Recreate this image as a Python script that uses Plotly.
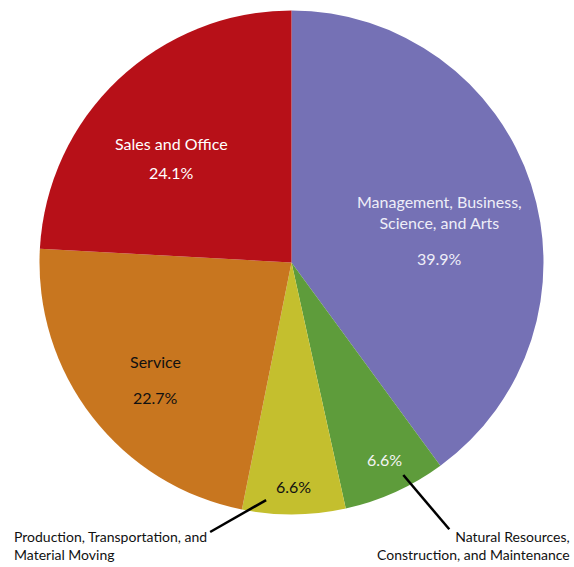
import numpy as np
import plotly.graph_objects as go

# Employment by occupation group (percent), clockwise from 12 o'clock
labels = [
    "Management, Business,<br>Science, and Arts",
    "Natural Resources,<br>Construction, and Maintenance",
    "Production, Transportation, and<br>Material Moving",
    "Service",
    "Sales and Office",
]
values = [39.9, 6.6, 6.6, 22.7, 24.1]
colors = ["#7571b5", "#5e9c3b", "#c4bf2e", "#c8761f", "#b71018"]
text_colors = ["#eeeef8", "#f4f4f4", "#111111", "#111111", "#ffffff"]

W, H = 574, 567
CX, CY, R = 291.5, 262.5, 252   # pie centre/radius in pixels
FONT = "Lato, Roboto, sans-serif"
FS_IN, FS_OUT = 16, 14


def to_paper(px, py):
    return px / W, 1 - py / H


def polar(angle, frac):
    # angle in degrees clockwise from 12 o'clock -> paper coords
    a = np.radians(angle)
    return to_paper(CX + R * frac * np.sin(a), CY - R * frac * np.cos(a))


x0, y1 = to_paper(CX - R, CY - R)
x1, y0 = to_paper(CX + R, CY + R)

fig = go.Figure(go.Pie(
    labels=labels,
    values=values,
    sort=False,
    direction="clockwise",
    rotation=0,
    marker=dict(colors=colors, line=dict(width=0)),
    textinfo="none",
    hoverinfo="label+percent",
    showlegend=False,
    domain=dict(x=[x0, x1], y=[y0, y1]),
))

total = sum(values)
cum = np.cumsum([0] + values) / total * 360
mids = (cum[:-1] + cum[1:]) / 2

# label placement: (angle nudge, radius fraction, name shift up in px); None = name outside
placement = [(16.7, 0.589, 47), (-1.0, 0.867, None), (0.0, 0.887, None),
             (-7.2, 0.760, 36), (-9.7, 0.594, 29)]

annotations = []
for i, (nudge, frac, shift) in enumerate(placement):
    x, y = polar(mids[i] + nudge, frac)
    annotations.append(dict(x=x, y=y, xref="paper", yref="paper", showarrow=False,
                            xanchor="center", yanchor="middle",
                            text=f"{values[i]:.1f}%",
                            font=dict(size=FS_IN, color=text_colors[i], family=FONT)))
    if shift is not None:
        annotations.append(dict(x=x, y=y, xref="paper", yref="paper", showarrow=False, yshift=shift,
                                xanchor="center", yanchor="middle",
                                text=labels[i],
                                font=dict(size=FS_IN, color=text_colors[i], family=FONT)))

# outside labels for the two small slices
lx, ly = to_paper(12, 545)
annotations.append(dict(x=lx, y=ly, xref="paper", yref="paper", showarrow=False,
                        xanchor="left", yanchor="middle", align="left", text=labels[2],
                        font=dict(size=FS_OUT, color="#111111", family=FONT)))
rx, ry = to_paper(572, 545)
annotations.append(dict(x=rx, y=ry, xref="paper", yref="paper", showarrow=False,
                        xanchor="right", yanchor="middle", align="right", text=labels[1],
                        font=dict(size=FS_OUT, color="#111111", family=FONT)))

# leader lines: (inner angle, inner frac, outer angle, outer frac)
leaders = [(152.25, 0.953, 149.4, 1.230), (186.1, 0.948, 196.8, 1.117)]
shapes = []
for a0, f0, a1, f1 in leaders:
    sx0, sy0 = polar(a0, f0)
    sx1, sy1 = polar(a1, f1)
    shapes.append(dict(type="line", xref="paper", yref="paper", x0=sx0, y0=sy0, x1=sx1, y1=sy1,
                       line=dict(color="black", width=2.5)))

fig.update_layout(
    width=W, height=H,
    margin=dict(l=0, r=0, t=0, b=0),
    paper_bgcolor="white",
    plot_bgcolor="white",
    annotations=annotations,
    shapes=shapes,
)

# drop the default 8px page margin so the figure fills the window
fig.write_html("out.html", config={"displayModeBar": False},
               post_script="document.body.style.margin='0px';")
